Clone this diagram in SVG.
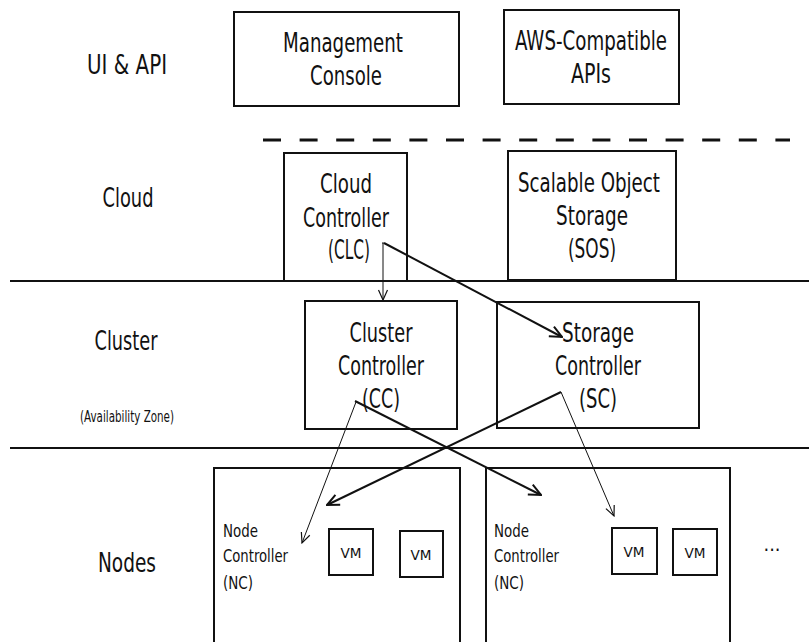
<svg xmlns="http://www.w3.org/2000/svg" width="809" height="642" viewBox="0 0 809 642">
<style>
text{font-family:"DejaVu Sans Condensed","DejaVu Sans","Liberation Sans",sans-serif;fill:#111;}
.lbl{font-size:27px;text-anchor:middle;}
.box{fill:#fff;stroke:#111;stroke-width:2;}
.sm{font-size:17px;}
.vm{font-size:14px;text-anchor:middle;}
.thin{stroke:#111;stroke-width:1;fill:none;}
.thick{stroke:#111;stroke-width:2;fill:none;}
</style>
<defs>
<marker id="ah1" viewBox="0 0 12 12" refX="11" refY="6" markerWidth="12" markerHeight="12" markerUnits="userSpaceOnUse" orient="auto">
<path d="M1,1.5 L11,6 L1,10.5" fill="none" stroke="#111" stroke-width="1.2"/>
</marker>
<marker id="ah2" viewBox="0 0 14 14" refX="13" refY="7" markerWidth="14" markerHeight="14" markerUnits="userSpaceOnUse" orient="auto">
<path d="M1,1.5 L13,7 L1,12.5" fill="none" stroke="#111" stroke-width="2"/>
</marker>
</defs>
<rect width="809" height="642" fill="#fff"/>
<g id="layers">
<text class="lbl" x="127" y="74" textLength="80" lengthAdjust="spacingAndGlyphs">UI &amp; API</text>
<text class="lbl" x="128" y="207" textLength="51" lengthAdjust="spacingAndGlyphs">Cloud</text>
<text class="lbl" x="126" y="350" textLength="63" lengthAdjust="spacingAndGlyphs">Cluster</text>
<text x="127" y="422" font-size="15px" text-anchor="middle" textLength="94" lengthAdjust="spacingAndGlyphs">(Availability Zone)</text>
<text class="lbl" x="127" y="572" textLength="58" lengthAdjust="spacingAndGlyphs">Nodes</text>
<line x1="263" y1="140" x2="790" y2="140" stroke="#111" stroke-width="3" stroke-dasharray="18,18.6"/>
<line x1="10" y1="281" x2="809" y2="281" stroke="#111" stroke-width="2"/>
<line x1="10" y1="448" x2="809" y2="448" stroke="#111" stroke-width="2"/>
</g>
<g id="mgmt">
<rect class="box" x="234" y="12" width="225" height="94"/>
<text class="lbl" x="343" y="52" textLength="120" lengthAdjust="spacingAndGlyphs">Management</text>
<text class="lbl" x="346" y="85" textLength="72" lengthAdjust="spacingAndGlyphs">Console</text>
</g>
<g id="aws">
<rect class="box" x="504" y="10" width="175" height="94"/>
<text class="lbl" x="591" y="50" textLength="152" lengthAdjust="spacingAndGlyphs">AWS-Compatible</text>
<text class="lbl" x="591" y="83" textLength="40" lengthAdjust="spacingAndGlyphs">APIs</text>
</g>
<g id="clc">
<rect class="box" x="284" y="153" width="123" height="128"/>
<text class="lbl" x="346" y="193" textLength="52" lengthAdjust="spacingAndGlyphs">Cloud</text>
<text class="lbl" x="346" y="227" textLength="86" lengthAdjust="spacingAndGlyphs">Controller</text>
<text class="lbl" x="349" y="259" textLength="42" lengthAdjust="spacingAndGlyphs">(CLC)</text>
</g>
<g id="sos">
<rect class="box" x="508" y="151" width="168" height="129"/>
<text class="lbl" x="589" y="192" textLength="142" lengthAdjust="spacingAndGlyphs">Scalable Object</text>
<text class="lbl" x="592" y="225" textLength="72" lengthAdjust="spacingAndGlyphs">Storage</text>
<text class="lbl" x="592" y="258" textLength="48" lengthAdjust="spacingAndGlyphs">(SOS)</text>
</g>
<g id="cc">
<rect class="box" x="305" y="301" width="152" height="128"/>
<text class="lbl" x="381" y="342" textLength="63" lengthAdjust="spacingAndGlyphs">Cluster</text>
<text class="lbl" x="381" y="375" textLength="86" lengthAdjust="spacingAndGlyphs">Controller</text>
<text class="lbl" x="381" y="408" textLength="38" lengthAdjust="spacingAndGlyphs">(CC)</text>
</g>
<g id="sc">
<rect class="box" x="497" y="302" width="202" height="126"/>
<text class="lbl" x="598" y="342" textLength="72" lengthAdjust="spacingAndGlyphs">Storage</text>
<text class="lbl" x="598" y="375" textLength="86" lengthAdjust="spacingAndGlyphs">Controller</text>
<text class="lbl" x="598" y="408" textLength="38" lengthAdjust="spacingAndGlyphs">(SC)</text>
</g>
<g id="node1">
<rect class="box" x="214" y="468" width="246" height="184"/>
<text class="sm" x="223" y="537" textLength="35" lengthAdjust="spacingAndGlyphs">Node</text>
<text class="sm" x="223" y="562" textLength="65" lengthAdjust="spacingAndGlyphs">Controller</text>
<text class="sm" x="223" y="589" textLength="30" lengthAdjust="spacingAndGlyphs">(NC)</text>
</g>
<g id="vm1a"><rect class="box" x="329" y="529" width="44" height="46"/><text class="vm" x="351" y="558" textLength="21" lengthAdjust="spacingAndGlyphs">VM</text></g>
<g id="vm1b"><rect class="box" x="400" y="531" width="43" height="46"/><text class="vm" x="421" y="560" textLength="21" lengthAdjust="spacingAndGlyphs">VM</text></g>
<g id="node2">
<rect class="box" x="486" y="468" width="244" height="184"/>
<text class="sm" x="494" y="537" textLength="35" lengthAdjust="spacingAndGlyphs">Node</text>
<text class="sm" x="494" y="562" textLength="65" lengthAdjust="spacingAndGlyphs">Controller</text>
<text class="sm" x="494" y="589" textLength="30" lengthAdjust="spacingAndGlyphs">(NC)</text>
</g>
<g id="vm2a"><rect class="box" x="612" y="528" width="45" height="46"/><text class="vm" x="634" y="557" textLength="21" lengthAdjust="spacingAndGlyphs">VM</text></g>
<g id="vm2b"><rect class="box" x="673" y="529" width="44" height="46"/><text class="vm" x="695" y="558" textLength="21" lengthAdjust="spacingAndGlyphs">VM</text></g>
<g id="more"><text x="772" y="551" font-size="20px" text-anchor="middle" textLength="17" lengthAdjust="spacingAndGlyphs">...</text></g>
<g id="connectors">
<line class="thin" x1="382" y1="243" x2="384" y2="243"/>
<line class="thin" x1="383" y1="243" x2="383" y2="300" marker-end="url(#ah1)"/>
<line class="thick" x1="384" y1="243" x2="562" y2="337" marker-end="url(#ah2)"/>
<line class="thin" x1="356" y1="402" x2="302" y2="543" marker-end="url(#ah1)"/>
<line class="thick" x1="355" y1="401" x2="541" y2="495" marker-end="url(#ah2)"/>
<line class="thick" x1="561" y1="392" x2="327" y2="505" marker-end="url(#ah2)"/>
<line class="thin" x1="561" y1="392" x2="614" y2="516" marker-end="url(#ah1)"/>
</g>
</svg>
